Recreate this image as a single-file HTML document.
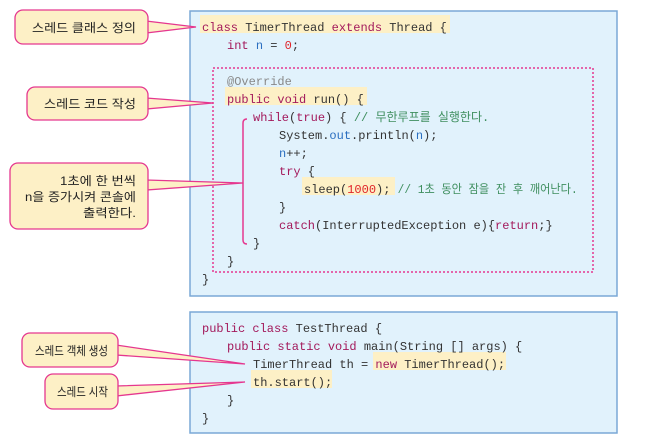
<!DOCTYPE html>
<html><head><meta charset="utf-8"><style>
body{margin:0;background:#fff;width:653px;height:448px;overflow:hidden}
svg{display:block}
.c{font-family:"Liberation Mono",monospace;font-size:12px;fill:#333}
.k{fill:#a3195b}.g{fill:#3f8f5f;font-family:"Liberation Mono","Noto Sans CJK KR",monospace}.r{fill:#e0252a}.b{fill:#2b6fc0}.a{fill:#888}
.t{font-family:"Liberation Sans","Noto Sans CJK KR",sans-serif;font-size:12px;fill:#222}
</style></head><body>
<svg width="653" height="448" viewBox="0 0 653 448">
<rect x="190" y="11" width="427" height="285" fill="#e1f2fc" stroke="#7aa8d6" stroke-width="1.5"/>
<rect x="190" y="312" width="427" height="121" fill="#e1f2fc" stroke="#7aa8d6" stroke-width="1.5"/>
<rect x="213" y="68" width="380" height="204" fill="none" stroke="#e5378f" stroke-width="1.5" stroke-dasharray="2,2"/>
<g fill="#fdf0c6">
<rect x="200" y="15" width="250" height="18"/>
<rect x="225" y="87" width="142" height="18"/>
<rect x="302" y="177" width="93" height="18"/>
<rect x="373" y="352" width="133" height="18"/>
<rect x="251" y="370" width="81" height="18"/>
</g>
<g class="c">
<text x="202" y="31"><tspan class="k">class</tspan> TimerThread <tspan class="k">extends</tspan> Thread {</text>
<text x="227" y="49"><tspan class="k">int</tspan> <tspan class="b">n</tspan> = <tspan class="r">0</tspan>;</text>
<text x="227" y="85" class="a">@Override</text>
<text x="227" y="103"><tspan class="k">public void</tspan> run() {</text>
<text x="253" y="121"><tspan class="k">while</tspan>(<tspan class="k">true</tspan>) { <tspan class="g">// 무한루프를 실행한다.</tspan></text>
<text x="279" y="139">System.<tspan class="b">out</tspan>.println(<tspan class="b">n</tspan>);</text>
<text x="279" y="157"><tspan class="b">n</tspan>++;</text>
<text x="279" y="175"><tspan class="k">try</tspan> {</text>
<text x="304" y="193">sleep(<tspan class="r">1000</tspan>); <tspan class="g" textLength="180" lengthAdjust="spacingAndGlyphs">// 1초 동안 잠을 잔 후 깨어난다.</tspan></text>
<text x="279" y="211">}</text>
<text x="279" y="229"><tspan class="k">catch</tspan>(InterruptedException e){<tspan class="k">return</tspan>;}</text>
<text x="253" y="247">}</text>
<text x="227" y="265">}</text>
<text x="202" y="283">}</text>
<text x="202" y="332"><tspan class="k">public class</tspan> TestThread {</text>
<text x="227" y="350"><tspan class="k">public static void</tspan> main(String [] args) {</text>
<text x="253" y="368">TimerThread th = <tspan class="k">new</tspan> TimerThread();</text>
<text x="253" y="386">th.start();</text>
<text x="227" y="404">}</text>
<text x="202" y="422">}</text>
</g>
<path d="M247,119 Q243,119 243,123 L243,240 Q243,244 247,244" fill="none" stroke="#e5378f" stroke-width="1.5"/>
<g fill="#fdf0c6" stroke="#e5378f" stroke-width="1.3">
<polygon points="146,21 196,27 146,33"/>
<polygon points="146,98 213,103 146,109"/>
<polygon points="146,180 243,183 146,190"/>
<polygon points="116,345 245,364 116,355"/>
<polygon points="116,386 245,382 116,396"/>
<rect x="15" y="10" width="133" height="34" rx="8"/>
<rect x="27" y="87" width="121" height="33" rx="8"/>
<rect x="10" y="163" width="138" height="66" rx="8"/>
<rect x="22" y="333" width="96" height="34" rx="8"/>
<rect x="45" y="374" width="73" height="35" rx="8"/>
</g>
<g class="t">
<text x="32" y="32" textLength="104" lengthAdjust="spacingAndGlyphs">스레드 클래스 정의</text>
<text x="44" y="108" textLength="92" lengthAdjust="spacingAndGlyphs">스레드 코드 작성</text>
<text x="60" y="185" textLength="76" lengthAdjust="spacingAndGlyphs">1초에 한 번씩</text>
<text x="25" y="201" textLength="111" lengthAdjust="spacingAndGlyphs">n을 증가시켜 콘솔에</text>
<text x="83" y="217" textLength="53" lengthAdjust="spacingAndGlyphs">출력한다.</text>
<text x="35" y="355" textLength="73" lengthAdjust="spacingAndGlyphs">스레드 객체 생성</text>
<text x="57" y="396" textLength="51" lengthAdjust="spacingAndGlyphs">스레드 시작</text>
</g>
</svg>
</body></html>
